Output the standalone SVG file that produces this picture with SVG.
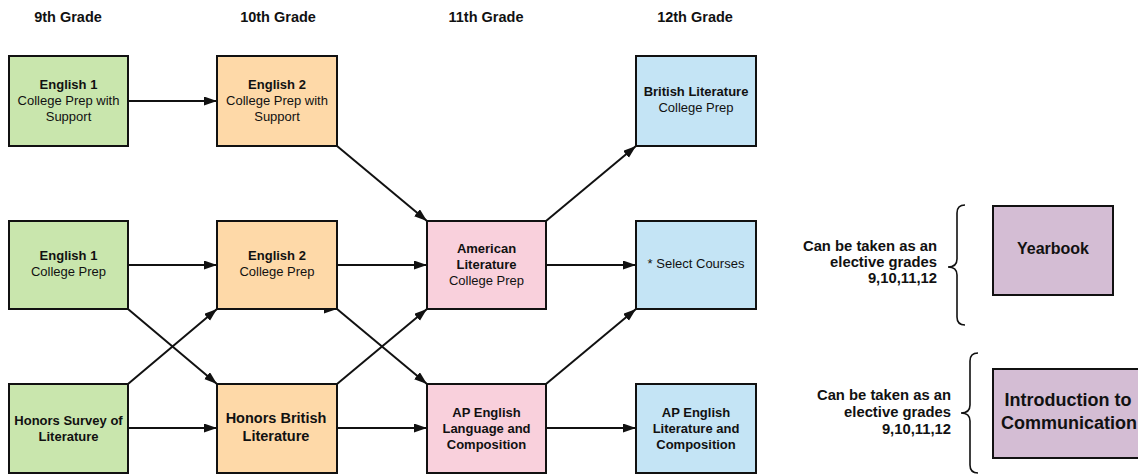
<svg xmlns="http://www.w3.org/2000/svg" width="1138" height="475" viewBox="0 0 1138 475">
<style>
text{font-family:"Liberation Sans",Arial,sans-serif;fill:#111;text-anchor:middle}
.hd{font-size:14.5px;font-weight:bold}
.b{font-size:13px;font-weight:bold}
.n{font-size:13px}
.big{font-size:14.5px;font-weight:bold}
.el{font-size:14.8px;font-weight:bold;text-anchor:end}
.box{stroke:#111;stroke-width:2}
.g{fill:#c9e6ad}.o{fill:#fed9a8}.p{fill:#f9d0dc}.bl{fill:#c4e4f5}.pu{fill:#d4bdd4}
.c path{fill:none;stroke:#111;stroke-width:2;marker-end:url(#ah)}
.brace{fill:none;stroke:#111;stroke-width:1.6}
</style>
<defs>
<marker id="ah" markerUnits="userSpaceOnUse" markerWidth="14" markerHeight="10" refX="13" refY="4.5" orient="auto">
<path d="M0,0 L13,4.5 L0,9 z" fill="#111"/>
</marker>
</defs>
<rect width="1138" height="475" fill="#fff"/>
<g id="headers">
<text class="hd" x="68" y="22">9th Grade</text>
<text class="hd" x="278" y="22">10th Grade</text>
<text class="hd" x="486" y="22">11th Grade</text>
<text class="hd" x="695" y="22">12th Grade</text>
</g>
<g class="c" id="connectors">
<path d="M128,101 L217,101"/>
<path d="M337,146 L427,221"/>
<path d="M128,265 L217,265"/>
<path d="M128,309 L217,384"/>
<path d="M128,384 L217,309"/>
<path d="M128,428 L217,428"/>
<path d="M337,265 L427,265"/>
<path d="M337,309 L427,384"/>
<path d="M337,384 L427,309"/>
<path d="M337,428 L427,428"/>
<path d="M546,221 L636,146"/>
<path d="M546,265 L636,265"/>
<path d="M546,384 L636,309"/>
<path d="M546,428 L636,428"/>
<path d="M322,309 L337,309"/>
</g>
<g id="n_eng1_sup"><rect class="box g" x="9" y="56" width="119" height="90"/>
<text class="b" x="68.5" y="89">English 1</text><text class="n" x="68.5" y="105">College Prep with</text><text class="n" x="68.5" y="121">Support</text></g>
<g id="n_eng2_sup"><rect class="box o" x="217" y="56" width="120" height="90"/>
<text class="b" x="277" y="89">English 2</text><text class="n" x="277" y="105">College Prep with</text><text class="n" x="277" y="121">Support</text></g>
<g id="n_brit_cp"><rect class="box bl" x="636" y="56" width="120" height="90"/>
<text class="b" x="696" y="96">British Literature</text><text class="n" x="696" y="112">College Prep</text></g>
<g id="n_eng1_cp"><rect class="box g" x="9" y="221" width="119" height="88"/>
<text class="b" x="68.5" y="260">English 1</text><text class="n" x="68.5" y="276">College Prep</text></g>
<g id="n_eng2_cp"><rect class="box o" x="217" y="221" width="120" height="88"/>
<text class="b" x="277" y="260">English 2</text><text class="n" x="277" y="276">College Prep</text></g>
<g id="n_amlit"><rect class="box p" x="427" y="221" width="119" height="88"/>
<text class="b" x="486.5" y="253">American</text><text class="b" x="486.5" y="269">Literature</text><text class="n" x="486.5" y="285">College Prep</text></g>
<g id="n_select"><rect class="box bl" x="636" y="221" width="120" height="88"/>
<text class="n" x="696" y="268">* Select Courses</text></g>
<g id="n_honsurvey"><rect class="box g" x="9" y="384" width="119" height="89"/>
<text class="b" x="68.5" y="425">Honors Survey of</text><text class="b" x="68.5" y="441">Literature</text></g>
<g id="n_honbrit"><rect class="box o" x="217" y="384" width="120" height="89"/>
<text class="big" x="276" y="423">Honors British</text><text class="big" x="276" y="441">Literature</text></g>
<g id="n_aplang"><rect class="box p" x="427" y="384" width="119" height="89"/>
<text class="b" x="486.5" y="417">AP English</text><text class="b" x="486.5" y="433">Language and</text><text class="b" x="486.5" y="449">Composition</text></g>
<g id="n_aplit"><rect class="box bl" x="636" y="384" width="120" height="89"/>
<text class="b" x="696" y="417">AP English</text><text class="b" x="696" y="433">Literature and</text><text class="b" x="696" y="449">Composition</text></g>
<g id="elective1">
<text class="el" x="937" y="251">Can be taken as an</text>
<text class="el" x="937" y="267">elective grades</text>
<text class="el" x="937" y="283">9,10,11,12</text>
<path class="brace" d="M965,205 Q957,205 957,213 L957,259 Q957,267 948,267 Q957,267 957,275 L957,317 Q957,325 965,325"/>
</g>
<g id="n_yearbook"><rect class="box pu" x="993" y="206" width="120" height="89"/>
<text x="1053" y="254" style="font-size:16px;font-weight:bold">Yearbook</text></g>
<g id="elective2">
<text class="el" x="951" y="400">Can be taken as an</text>
<text class="el" x="951" y="417">elective grades</text>
<text class="el" x="951" y="434">9,10,11,12</text>
<path class="brace" d="M978,353 Q970,353 970,361 L970,405 Q970,413 961,413 Q970,413 970,421 L970,465 Q970,473 978,473"/>
</g>
<g id="n_intro"><rect class="box pu" x="993" y="369" width="150" height="89"/>
<text style="font-size:18px;font-weight:bold" x="1068" y="406">Introduction to</text>
<text style="font-size:18px;font-weight:bold" x="1069" y="429">Communication</text></g>
</svg>
